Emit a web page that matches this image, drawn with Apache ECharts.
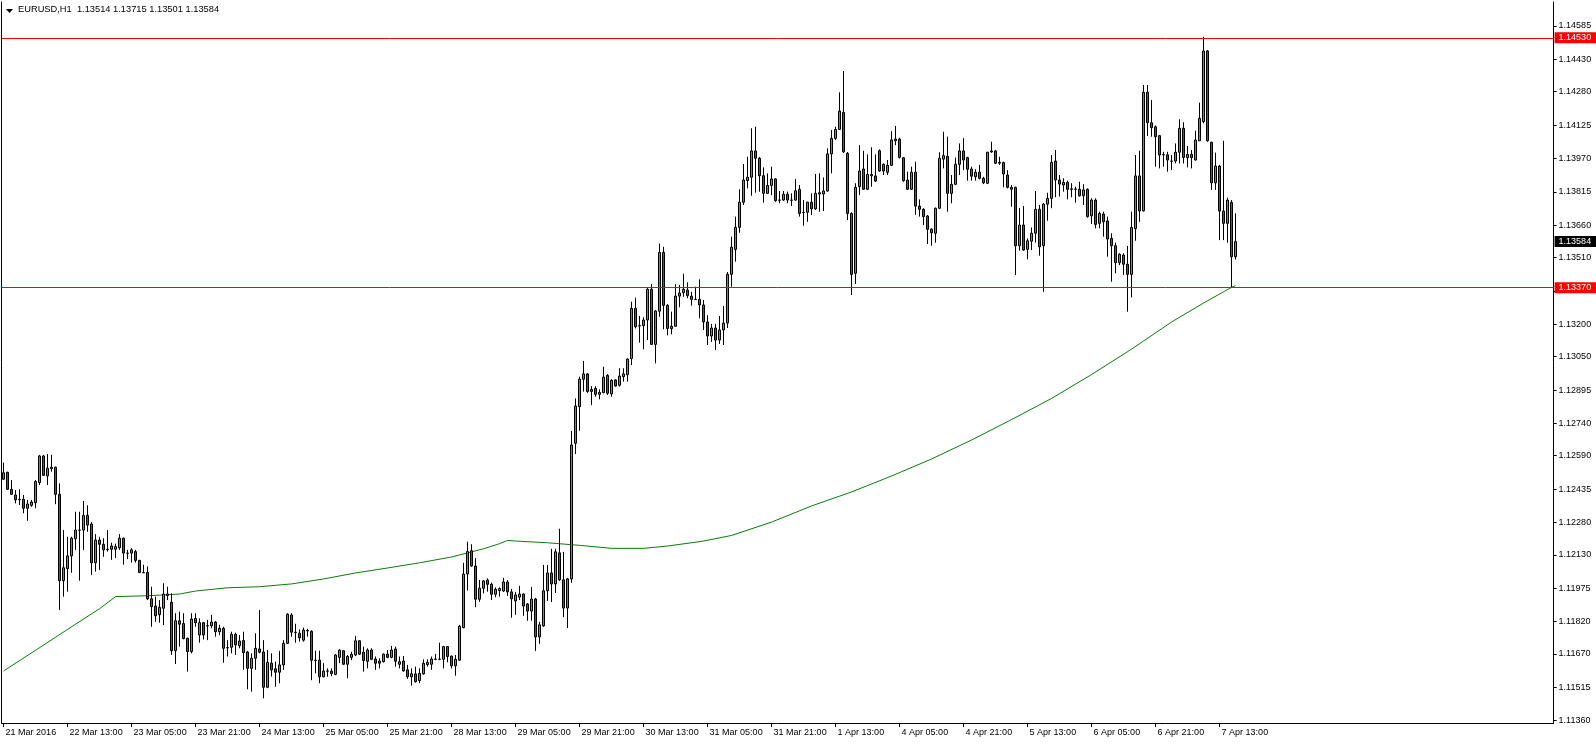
<!DOCTYPE html>
<html>
<head>
<meta charset="utf-8">
<script src="https://cdn.jsdelivr.net/npm/echarts@6/dist/echarts.min.js"></script>
<style>
html,body{margin:0;padding:0;background:#fff;}
#chart{width:1596px;height:744px;}
</style>
</head>
<body>
<div id="chart"></div>
<script>
// ---- DATA ----
const symbolTitle = 'EURUSD,H1  1.13514 1.13715 1.13501 1.13584';
const firstBarTime = Date.UTC(2016, 2, 21, 21, 0);
const totalSlots = 388;
const xTickEvery = 16;
const xTickLabels = ['21 Mar 2016','22 Mar 13:00','23 Mar 05:00','23 Mar 21:00','24 Mar 13:00','25 Mar 05:00','25 Mar 21:00','28 Mar 13:00','29 Mar 05:00','29 Mar 21:00','30 Mar 13:00','31 Mar 05:00','31 Mar 21:00','1 Apr 13:00','4 Apr 05:00','4 Apr 21:00','5 Apr 13:00','6 Apr 05:00','6 Apr 21:00','7 Apr 13:00'];
const yTickValues = [1.14585,1.14430,1.14280,1.14125,1.13970,1.13815,1.13660,1.13510,1.13355,1.13200,1.13050,1.12895,1.12740,1.12590,1.12435,1.12280,1.12130,1.11975,1.11820,1.11670,1.11515,1.11360];
const resistanceLevel = 1.14530;
const supportLevel = 1.13370;
const lastPrice = 1.13584;

// [open, high, low, close]
const ohlcRows = [
[1.12481,1.12558,1.12477,1.12511],[1.12513,1.12516,1.12431,1.12434],[1.12434,1.12477,1.12408,1.12411],[1.12408,1.12431,1.12369,1.12385],
[1.12388,1.12434,1.12361,1.12386],[1.12388,1.12408,1.12323,1.12346],[1.12346,1.12385,1.12288,1.12366],[1.12360,1.12385,1.12353,1.12375],
[1.12372,1.12477,1.12346,1.12470],[1.12465,1.12594,1.12454,1.12589],[1.12589,1.12594,1.12496,1.12499],[1.12496,1.12598,1.12454,1.12532],
[1.12530,1.12594,1.12516,1.12537],[1.12537,1.12539,1.12365,1.12411],[1.12411,1.12462,1.11874,1.12010],[1.12010,1.12245,1.11936,1.12070],
[1.12066,1.12214,1.11959,1.12125],[1.12125,1.12214,1.12047,1.12207],[1.12205,1.12330,1.12153,1.12245],[1.12245,1.12330,1.12010,1.12244],
[1.12245,1.12380,1.12153,1.12313],[1.12313,1.12360,1.12237,1.12268],[1.12273,1.12282,1.12036,1.12093],[1.12093,1.12226,1.12052,1.12199],
[1.12199,1.12214,1.12060,1.12179],[1.12179,1.12207,1.12121,1.12153],[1.12156,1.12245,1.12145,1.12154],[1.12156,1.12186,1.12107,1.12171],
[1.12156,1.12182,1.12115,1.12168],[1.12163,1.12226,1.12153,1.12207],[1.12207,1.12210,1.12084,1.12138],[1.12138,1.12153,1.12110,1.12137],
[1.12138,1.12161,1.12094,1.12153],[1.12145,1.12153,1.12094,1.12104],[1.12104,1.12107,1.12045,1.12048],[1.12048,1.12084,1.12045,1.12047],
[1.12048,1.12076,1.11920,1.11926],[1.11926,1.11982,1.11796,1.11889],[1.11892,1.11936,1.11819,1.11847],[1.11852,1.11920,1.11815,1.11886],
[1.11882,1.11998,1.11804,1.11948],[1.11941,1.11982,1.11920,1.11948],[1.11910,1.11951,1.11665,1.11685],[1.11685,1.11859,1.11623,1.11824],
[1.11824,1.11866,1.11704,1.11808],[1.11811,1.11859,1.11738,1.11741],[1.11743,1.11745,1.11588,1.11681],[1.11681,1.11859,1.11673,1.11832],
[1.11835,1.11859,1.11796,1.11815],[1.11758,1.11835,1.11722,1.11815],[1.11815,1.11819,1.11737,1.11758],[1.11801,1.11828,1.11734,1.11800],
[1.11801,1.11851,1.11789,1.11818],[1.11818,1.11823,1.11750,1.11773],[1.11773,1.11805,1.11757,1.11789],[1.11789,1.11796,1.11629,1.11696],
[1.11699,1.11734,1.11658,1.11698],[1.11701,1.11773,1.11673,1.11761],[1.11761,1.11769,1.11665,1.11712],[1.11708,1.11758,1.11696,1.11730],
[1.11732,1.11773,1.11596,1.11676],[1.11679,1.11684,1.11506,1.11603],[1.11603,1.11673,1.11495,1.11650],[1.11650,1.11766,1.11596,1.11696],
[1.11693,1.11874,1.11673,1.11678],[1.11679,1.11734,1.11464,1.11515],[1.11515,1.11688,1.11511,1.11631],[1.11627,1.11673,1.11565,1.11596],
[1.11601,1.11634,1.11518,1.11585],[1.11585,1.11684,1.11534,1.11619],[1.11619,1.11734,1.11596,1.11719],[1.11719,1.11859,1.11716,1.11854],
[1.11851,1.11859,1.11750,1.11771],[1.11769,1.11810,1.11722,1.11771],[1.11766,1.11784,1.11727,1.11745],[1.11734,1.11792,1.11727,1.11781],
[1.11779,1.11787,1.11750,1.11777],[1.11775,1.11780,1.11548,1.11641],[1.11641,1.11685,1.11580,1.11640],[1.11641,1.11685,1.11534,1.11564],
[1.11564,1.11627,1.11561,1.11590],[1.11591,1.11603,1.11564,1.11590],[1.11590,1.11603,1.11567,1.11579],[1.11575,1.11669,1.11571,1.11665],
[1.11654,1.11691,1.11627,1.11688],[1.11685,1.11688,1.11619,1.11622],[1.11622,1.11665,1.11557,1.11658],[1.11654,1.11680,1.11641,1.11668],
[1.11665,1.11754,1.11660,1.11731],[1.11731,1.11734,1.11665,1.11669],[1.11678,1.11704,1.11588,1.11639],[1.11636,1.11696,1.11603,1.11688],
[1.11688,1.11696,1.11641,1.11645],[1.11646,1.11658,1.11596,1.11627],[1.11627,1.11650,1.11603,1.11637],[1.11634,1.11672,1.11630,1.11669],
[1.11669,1.11688,1.11650,1.11654],[1.11654,1.11707,1.11650,1.11688],[1.11693,1.11704,1.11611,1.11636],[1.11622,1.11658,1.11603,1.11634],
[1.11637,1.11660,1.11588,1.11591],[1.11596,1.11619,1.11554,1.11564],[1.11564,1.11603,1.11523,1.11578],[1.11577,1.11611,1.11537,1.11541],
[1.11546,1.11603,1.11534,1.11580],[1.11577,1.11645,1.11574,1.11627],[1.11620,1.11645,1.11611,1.11631],[1.11622,1.11658,1.11596,1.11646],
[1.11645,1.11669,1.11641,1.11646],[1.11645,1.11722,1.11641,1.11646],[1.11645,1.11707,1.11603,1.11704],[1.11704,1.11706,1.11631,1.11658],
[1.11660,1.11662,1.11603,1.11615],[1.11615,1.11665,1.11569,1.11645],[1.11641,1.11805,1.11638,1.11799],[1.11792,1.12093,1.11789,1.12041],
[1.12041,1.12191,1.11964,1.12145],[1.12149,1.12179,1.12075,1.12078],[1.12078,1.12115,1.11887,1.11924],[1.11924,1.12013,1.11912,1.11975],
[1.11975,1.12013,1.11951,1.12009],[1.12013,1.12021,1.11959,1.11993],[1.11993,1.12001,1.11920,1.11947],[1.11947,1.11979,1.11933,1.11970],
[1.11964,1.11979,1.11936,1.11973],[1.11962,1.12023,1.11958,1.12004],[1.12004,1.12013,1.11939,1.11958],[1.11958,1.11972,1.11838,1.11926],
[1.11916,1.11958,1.11852,1.11944],[1.11934,1.11986,1.11920,1.11948],[1.11948,1.11951,1.11847,1.11892],[1.11902,1.11906,1.11824,1.11869],
[1.11869,1.11981,1.11824,1.11925],[1.11925,1.11930,1.11684,1.11749],[1.11749,1.11819,1.11717,1.11805],[1.11800,1.12083,1.11796,1.11963],
[1.11963,1.12083,1.11916,1.12046],[1.12046,1.12158,1.11911,1.11995],[1.11995,1.12158,1.11953,1.12144],[1.12139,1.12251,1.12009,1.12014],
[1.12014,1.12144,1.11841,1.11883],[1.11883,1.12023,1.11790,1.12018],[1.12018,1.12705,1.12000,1.12640],[1.12648,1.12856,1.12598,1.12821],
[1.12818,1.12957,1.12706,1.12945],[1.12945,1.13030,1.12888,1.12970],[1.12970,1.12974,1.12882,1.12888],[1.12898,1.12913,1.12825,1.12888],
[1.12903,1.12913,1.12864,1.12875],[1.12875,1.12898,1.12852,1.12884],[1.12883,1.13003,1.12880,1.12955],[1.12963,1.12969,1.12872,1.12880],
[1.12877,1.12945,1.12864,1.12940],[1.12942,1.12945,1.12911,1.12914],[1.12917,1.12996,1.12911,1.12960],[1.12957,1.12996,1.12934,1.12970],
[1.12966,1.13042,1.12934,1.13039],[1.13041,1.13305,1.13011,1.13274],[1.13274,1.13324,1.13181,1.13189],[1.13194,1.13239,1.13115,1.13192],
[1.13194,1.13233,1.13084,1.13220],[1.13220,1.13369,1.13127,1.13363],[1.13363,1.13387,1.13104,1.13107],[1.13107,1.13266,1.13019,1.13262],
[1.13261,1.13575,1.13235,1.13534],[1.13534,1.13560,1.13177,1.13288],[1.13288,1.13294,1.13149,1.13181],[1.13180,1.13259,1.13154,1.13191],
[1.13191,1.13387,1.13189,1.13331],[1.13331,1.13383,1.13279,1.13345],[1.13347,1.13435,1.13328,1.13363],[1.13359,1.13395,1.13321,1.13333],
[1.13331,1.13351,1.13287,1.13316],[1.13316,1.13375,1.13313,1.13315],[1.13316,1.13409,1.13228,1.13290],[1.13290,1.13313,1.13174,1.13211],
[1.13211,1.13243,1.13104,1.13146],[1.13146,1.13202,1.13118,1.13183],[1.13183,1.13202,1.13081,1.13127],[1.13127,1.13239,1.13109,1.13174],
[1.13174,1.13285,1.13104,1.13206],[1.13206,1.13443,1.13183,1.13432],[1.13432,1.13607,1.13375,1.13558],[1.13548,1.13700,1.13491,1.13650],
[1.13650,1.13827,1.13625,1.13767],[1.13767,1.13944,1.13754,1.13870],[1.13867,1.13978,1.13831,1.13883],[1.13883,1.14110,1.13797,1.14005],
[1.14005,1.14117,1.13811,1.13971],[1.13971,1.13977,1.13816,1.13890],[1.13890,1.13929,1.13765,1.13808],[1.13808,1.13901,1.13805,1.13845],
[1.13845,1.13932,1.13800,1.13875],[1.13875,1.13878,1.13769,1.13774],[1.13777,1.13819,1.13762,1.13776],[1.13777,1.13819,1.13773,1.13804],
[1.13804,1.13816,1.13762,1.13777],[1.13777,1.13808,1.13749,1.13776],[1.13777,1.13875,1.13773,1.13820],[1.13827,1.13847,1.13700,1.13715],
[1.13720,1.13777,1.13658,1.13719],[1.13720,1.13769,1.13676,1.13767],[1.13767,1.13808,1.13708,1.13736],[1.13736,1.13898,1.13731,1.13808],
[1.13805,1.13901,1.13723,1.13811],[1.13805,1.13882,1.13726,1.13819],[1.13819,1.14017,1.13815,1.13991],[1.13991,1.14102,1.13901,1.14063],
[1.14063,1.14117,1.14056,1.14105],[1.14105,1.14277,1.14102,1.14190],[1.14184,1.14376,1.13995,1.14001],[1.13994,1.14000,1.13684,1.13715],
[1.13715,1.13720,1.13336,1.13432],[1.13437,1.13855,1.13387,1.13836],[1.13839,1.14032,1.13800,1.13912],[1.13921,1.14006,1.13824,1.13827],
[1.13827,1.13989,1.13824,1.13896],[1.13890,1.14022,1.13839,1.13896],[1.13889,1.13989,1.13862,1.13865],[1.14006,1.14012,1.13908,1.13912],
[1.13943,1.13947,1.13893,1.13912],[1.13906,1.13963,1.13893,1.13938],[1.13938,1.14097,1.13935,1.14056],[1.14052,1.14121,1.14032,1.14060],
[1.14060,1.14066,1.13970,1.13975],[1.13973,1.13977,1.13862,1.13867],[1.13870,1.13909,1.13824,1.13827],[1.13827,1.13932,1.13824,1.13906],
[1.13906,1.13955,1.13708,1.13749],[1.13749,1.13780,1.13700,1.13734],[1.13734,1.13739,1.13661,1.13700],[1.13703,1.13708,1.13573,1.13641],
[1.13642,1.13646,1.13565,1.13625],[1.13623,1.13742,1.13579,1.13739],[1.13739,1.13999,1.13735,1.13971],[1.13967,1.14094,1.13924,1.13983],
[1.13980,1.14071,1.13723,1.13808],[1.13808,1.13893,1.13762,1.13850],[1.13850,1.13974,1.13847,1.13943],[1.13943,1.14040,1.13893,1.14005],
[1.14005,1.14064,1.13916,1.13963],[1.13974,1.13978,1.13867,1.13920],[1.13921,1.13932,1.13867,1.13888],[1.13885,1.13920,1.13867,1.13906],
[1.13906,1.13940,1.13873,1.13878],[1.13878,1.13885,1.13851,1.13857],[1.13855,1.14001,1.13851,1.13999],[1.14005,1.14048,1.13997,1.14000],
[1.14005,1.14009,1.13944,1.13948],[1.13952,1.13978,1.13940,1.13948],[1.13951,1.13955,1.13836,1.13898],[1.13893,1.13916,1.13831,1.13836],
[1.13836,1.13847,1.13746,1.13827],[1.13836,1.13839,1.13429,1.13565],[1.13565,1.13740,1.13542,1.13661],[1.13661,1.13749,1.13542,1.13545],
[1.13548,1.13599,1.13502,1.13588],[1.13586,1.13650,1.13545,1.13623],[1.13623,1.13819,1.13579,1.13734],[1.13734,1.13754,1.13519,1.13560],
[1.13565,1.13763,1.13351,1.13758],[1.13758,1.13811,1.13681,1.13785],[1.13785,1.13986,1.13739,1.13952],[1.13958,1.14009,1.13790,1.13870],
[1.13870,1.13893,1.13793,1.13851],[1.13847,1.13878,1.13816,1.13859],[1.13859,1.13867,1.13780,1.13827],[1.13829,1.13855,1.13790,1.13827],
[1.13828,1.13839,1.13765,1.13827],[1.13827,1.13862,1.13793,1.13797],[1.13797,1.13851,1.13754,1.13824],[1.13827,1.13831,1.13695,1.13700],
[1.13704,1.13785,1.13666,1.13777],[1.13777,1.13785,1.13646,1.13664],[1.13669,1.13723,1.13646,1.13715],[1.13712,1.13723,1.13607,1.13676],
[1.13680,1.13700,1.13514,1.13596],[1.13599,1.13623,1.13398,1.13565],[1.13565,1.13579,1.13437,1.13486],[1.13486,1.13530,1.13475,1.13525],
[1.13522,1.13530,1.13429,1.13479],[1.13479,1.13564,1.13259,1.13432],[1.13432,1.13723,1.13325,1.13650],[1.13644,1.13986,1.13588,1.13889],
[1.13889,1.14006,1.13676,1.13726],[1.13727,1.14311,1.13724,1.14277],[1.14277,1.14311,1.14074,1.14136],[1.14136,1.14241,1.14071,1.14113],
[1.14117,1.14123,1.13932,1.14071],[1.14076,1.14079,1.13924,1.13986],[1.13988,1.14001,1.13932,1.13987],[1.13987,1.14001,1.13909,1.13963],
[1.13958,1.13986,1.13916,1.13957],[1.13958,1.14040,1.13947,1.13999],[1.13999,1.14152,1.13947,1.14110],[1.14110,1.14138,1.13947,1.13974],
[1.13974,1.14028,1.13929,1.13989],[1.13989,1.14009,1.13924,1.13974],[1.13963,1.14099,1.13960,1.14056],[1.14052,1.14229,1.14051,1.14156],
[1.14141,1.14535,1.14133,1.14469],[1.14469,1.14473,1.14048,1.14052],[1.14045,1.14048,1.13824,1.13857],[1.13857,1.13997,1.13824,1.13935],
[1.13935,1.13940,1.13591,1.13726],[1.13726,1.14052,1.13591,1.13669],[1.13669,1.13788,1.13579,1.13777],[1.13766,1.13777,1.13372,1.13514],
[1.13514,1.13715,1.13501,1.13584]
];

// moving average read at sample bars: [barIndex, value]
const maPoints = [
[0,1.11591],[8,1.11687],[16,1.11784],[24,1.11880],[28,1.11936],[36,1.11940],[44,1.11948],[48,1.11962],[56,1.11977],[64,1.11982],
[72,1.11995],[80,1.12018],[88,1.12046],[96,1.12069],[104,1.12093],[112,1.12120],[120,1.12158],[124,1.12182],[126,1.12197],[128,1.12194],
[136,1.12186],[144,1.12174],[152,1.12160],[160,1.12160],[166,1.12171],[172,1.12186],[175,1.12194],[182,1.12220],[192,1.12282],[202,1.12357],
[212,1.12422],[222,1.12496],[232,1.12575],[242,1.12663],[252,1.12758],[262,1.12856],[272,1.12967],[282,1.13085],[292,1.13211],[300,1.13299],
[307,1.13372],[308,1.13380]
];

// ---- BUILD ----
const MON = ['Jan','Feb','Mar','Apr','May','Jun','Jul','Aug','Sep','Oct','Nov','Dec'];
const categories = [];
let t = firstBarTime;
while (categories.length < totalSlots) {
  const d = new Date(t);
  const wd = d.getUTCDay();
  if (wd !== 0 && wd !== 6) {
    categories.push(d.getUTCDate() + ' ' + MON[d.getUTCMonth()] + ' ' + String(d.getUTCHours()).padStart(2,'0') + ':00');
  }
  t += 3600000;
}
const candleData = ohlcRows.map(r => [r[0], r[3], r[2], r[1]]);
const showTick = (idx) => idx % xTickEvery === 0 && idx / xTickEvery < xTickLabels.length;

const FONT = 'Liberation Sans';
const chart = echarts.init(document.getElementById('chart'), null, {renderer: 'canvas'});
const yMin = 1.113493, yMax = 1.146964;

function levelLine(value, lineColor, boxColor) {
  return {
    yAxis: value,
    lineStyle: {color: lineColor, width: 1, type: 'solid'},
    label: {
      show: true, position: 'end', distance: 1,
      formatter: value.toFixed(5),
      color: '#fff', backgroundColor: boxColor,
      fontFamily: FONT, fontSize: 9, lineHeight: 10,
      padding: [1, 5, 0, 4]
    }
  };
}

chart.setOption({
  animation: false,
  backgroundColor: '#fff',
  grid: {left: 1.6, top: 2, width: 1552, height: 721, containLabel: false},
  xAxis: {
    type: 'category', data: categories, boundaryGap: true,
    axisLine: {show: true, lineStyle: {color: '#000', width: 1}},
    axisTick: {show: true, interval: showTick, alignWithLabel: true, length: 4, lineStyle: {color: '#000'}},
    axisLabel: {
      show: true, interval: showTick, align: 'left', margin: 5, padding: [0,0,0,2],
      fontFamily: FONT, fontSize: 9, color: '#000',
      formatter: (v, idx) => xTickLabels[idx / xTickEvery] || ''
    },
    splitLine: {show: false}
  },
  yAxis: [{
    type: 'value', position: 'right', min: yMin, max: yMax, scale: true,
    axisLine: {show: true, lineStyle: {color: '#000', width: 1}},
    axisTick: {show: true, length: 3, customValues: yTickValues, lineStyle: {color: '#000'}},
    axisLabel: {show: true, margin: 5, customValues: yTickValues, fontFamily: FONT, fontSize: 9, color: '#000',
      formatter: v => v.toFixed(5)},
    splitLine: {show: false}
  }, {
    type: 'value', position: 'left', min: yMin, max: yMax,
    axisLine: {show: true, onZero: false, lineStyle: {color: '#000', width: 1}},
    axisTick: {show: false}, axisLabel: {show: false}, splitLine: {show: false}
  }],
  series: [{
    type: 'candlestick', name: 'EURUSD', data: candleData, barWidth: 2, yAxisIndex: 0,
    itemStyle: {color: '#3fae49', color0: '#e01e1e', borderColor: '#000', borderColor0: '#000', borderWidth: 1},
    z: 3
  }, {
    type: 'line', name: 'MA', data: maPoints, showSymbol: false, symbol: 'none', yAxisIndex: 0,
    lineStyle: {color: '#0a7d0a', width: 1}, z: 2, silent: true,
    markLine: {
      silent: true, symbol: ['none','none'], animation: false, precision: 5,
      data: [
        levelLine(resistanceLevel, '#ff0000', '#ff0000'),
        levelLine(supportLevel, '#ff0000', '#ff0000'),
        levelLine(lastPrice, 'rgba(0,0,0,0)', '#000')
      ]
    }
  }],
  graphic: [
    {type: 'polygon', shape: {points: [[6,9],[13,9],[9.5,13]]}, style: {fill: '#000'}},
    {type: 'text', left: 18, top: 5, style: {text: symbolTitle, fontFamily: FONT, fontSize: 9.3, fill: '#000'}}
  ]
});
</script>
</body>
</html>
